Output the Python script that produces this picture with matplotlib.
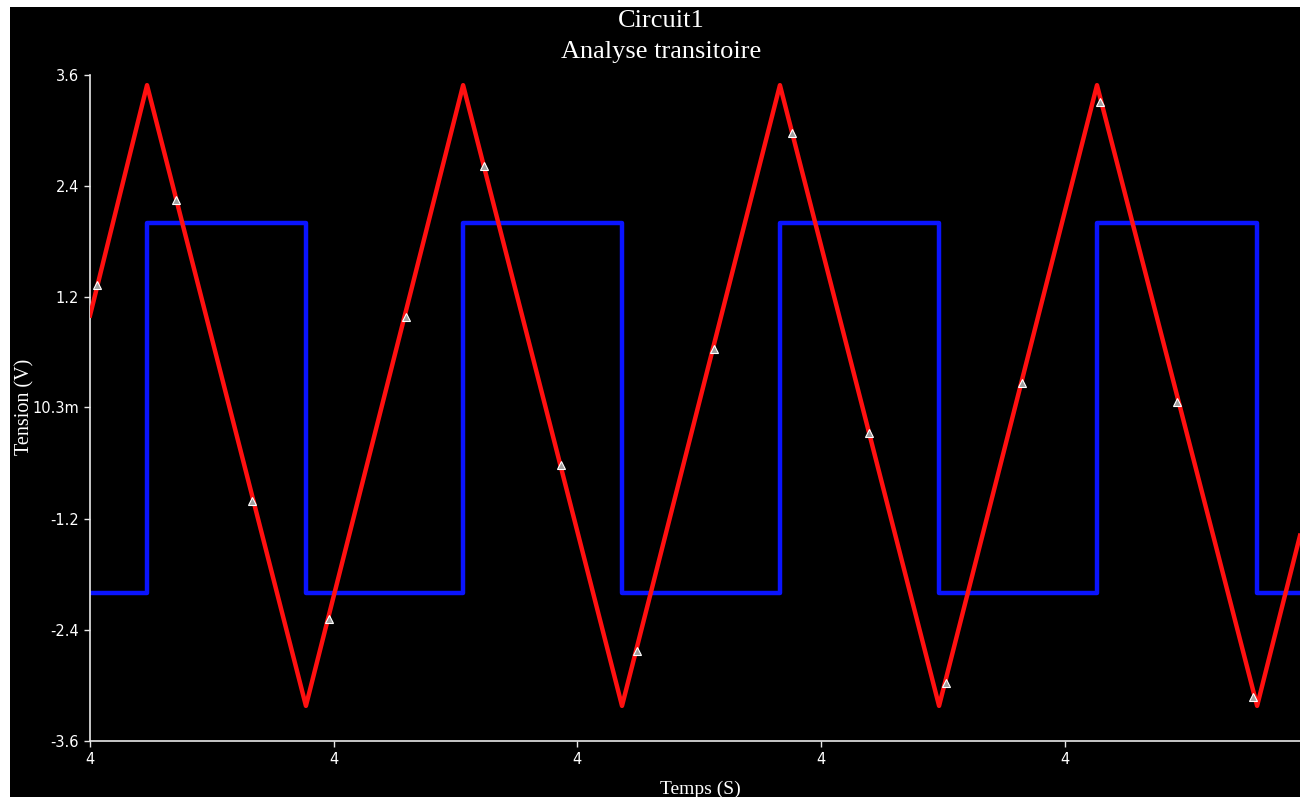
import numpy as np
import matplotlib
matplotlib.use('Agg')
import matplotlib.pyplot as plt
from matplotlib.patches import Rectangle

# time offsets in ms after t = 4 s
red_ms = [0.0, 0.234, 0.886, 1.531, 2.183, 2.831, 3.484, 4.132, 4.789, 4.965]
red_v = [1.0, 3.49, -3.22, 3.49, -3.22, 3.49, -3.22, 3.49, -3.22, -1.38]

blue_ms = [0.0, 0.234, 0.886, 1.531, 2.183, 2.831, 3.484, 4.132, 4.789, 4.965]
blue_v = [-2.0, 2.0, -2.0, 2.0, -2.0, 2.0, -2.0, 2.0, -2.0, -2.0]

mark_ms = [0.029, 0.353, 0.665, 0.981, 1.297, 1.617, 1.933, 2.245,
           2.561, 2.881, 3.197, 3.513, 3.824, 4.144, 4.460, 4.772]
mark_v = [1.33, 2.25, -1.0, -2.28, 0.98, 2.62, -0.62, -2.63,
          0.64, 2.97, -0.27, -2.97, 0.27, 3.31, 0.06, -3.12]

yticks = [-3.6, -2.4, -1.2, 0.0103, 1.2, 2.4, 3.6]
ytick_labels = ['-3.6', '-2.4', '-1.2', '10.3m', '1.2', '2.4', '3.6']
xticks_ms = [0, 1, 2, 3, 4]
xtick_labels = ['4', '4', '4', '4', '4']

t0 = 4.0
red_t = t0 + np.array(red_ms) * 1e-3
blue_t = t0 + np.array(blue_ms) * 1e-3
mark_t = t0 + np.array(mark_ms) * 1e-3

fig = plt.figure(figsize=(13, 7.97), dpi=100, facecolor='white')
# black canvas, leaving the thin white strip on the left and top
fig.patches.append(Rectangle((10/1300, 0), 1 - 10/1300, 1 - 7/797,
                             transform=fig.transFigure, facecolor='black',
                             edgecolor='none', zorder=-10))

ax = fig.add_axes([90/1300, 1 - 741/797, 1 - 90/1300, (741 - 75)/797])
ax.set_facecolor('black')

ax.plot(blue_t, blue_v, drawstyle='steps-post', color='#0a14ff', lw=3.2, zorder=2)
ax.plot(red_t, red_v, color='#ff1010', lw=3.2, zorder=3)
ax.plot(mark_t, mark_v, ls='none', marker='^', ms=6, mfc='#a0a0a0',
        mec='white', mew=0.8, zorder=4)

ax.set_xlim(t0, t0 + 4.965e-3)
ax.set_ylim(-3.6, 3.6)
ax.set_xticks(t0 + np.array(xticks_ms) * 1e-3)
ax.set_xticklabels(xtick_labels)
ax.set_yticks(yticks)
ax.set_yticklabels(ytick_labels)

for side in ['top', 'right']:
    ax.spines[side].set_visible(False)
for side in ['left', 'bottom']:
    ax.spines[side].set_color('#e8e8e8')
    ax.spines[side].set_linewidth(1.2)

ax.tick_params(colors='#e8e8e8', length=4, width=1, direction='out',
               labelsize=10.5, pad=4)
for lbl in ax.get_xticklabels() + ax.get_yticklabels():
    lbl.set_color('white')
    lbl.set_family('DejaVu Sans')

fig.text(661/1300, 1 - 21/797, 'Circuit1', ha='center', va='center',
         color='white', fontsize=19, family='Liberation Serif')
fig.text(661/1300, 1 - 52/797, 'Analyse transitoire', ha='center', va='center',
         color='white', fontsize=19, family='Liberation Serif')
fig.text(700/1300, 1 - 789/797, 'Temps (S)', ha='center', va='center',
         color='white', fontsize=14, family='Liberation Serif')
fig.text(25/1300, 1 - 407/797, 'Tension (V)', ha='center', va='center',
         rotation=90, color='white', fontsize=14.5, family='Liberation Serif')

fig.savefig('out.png', dpi=100, facecolor=fig.get_facecolor())
